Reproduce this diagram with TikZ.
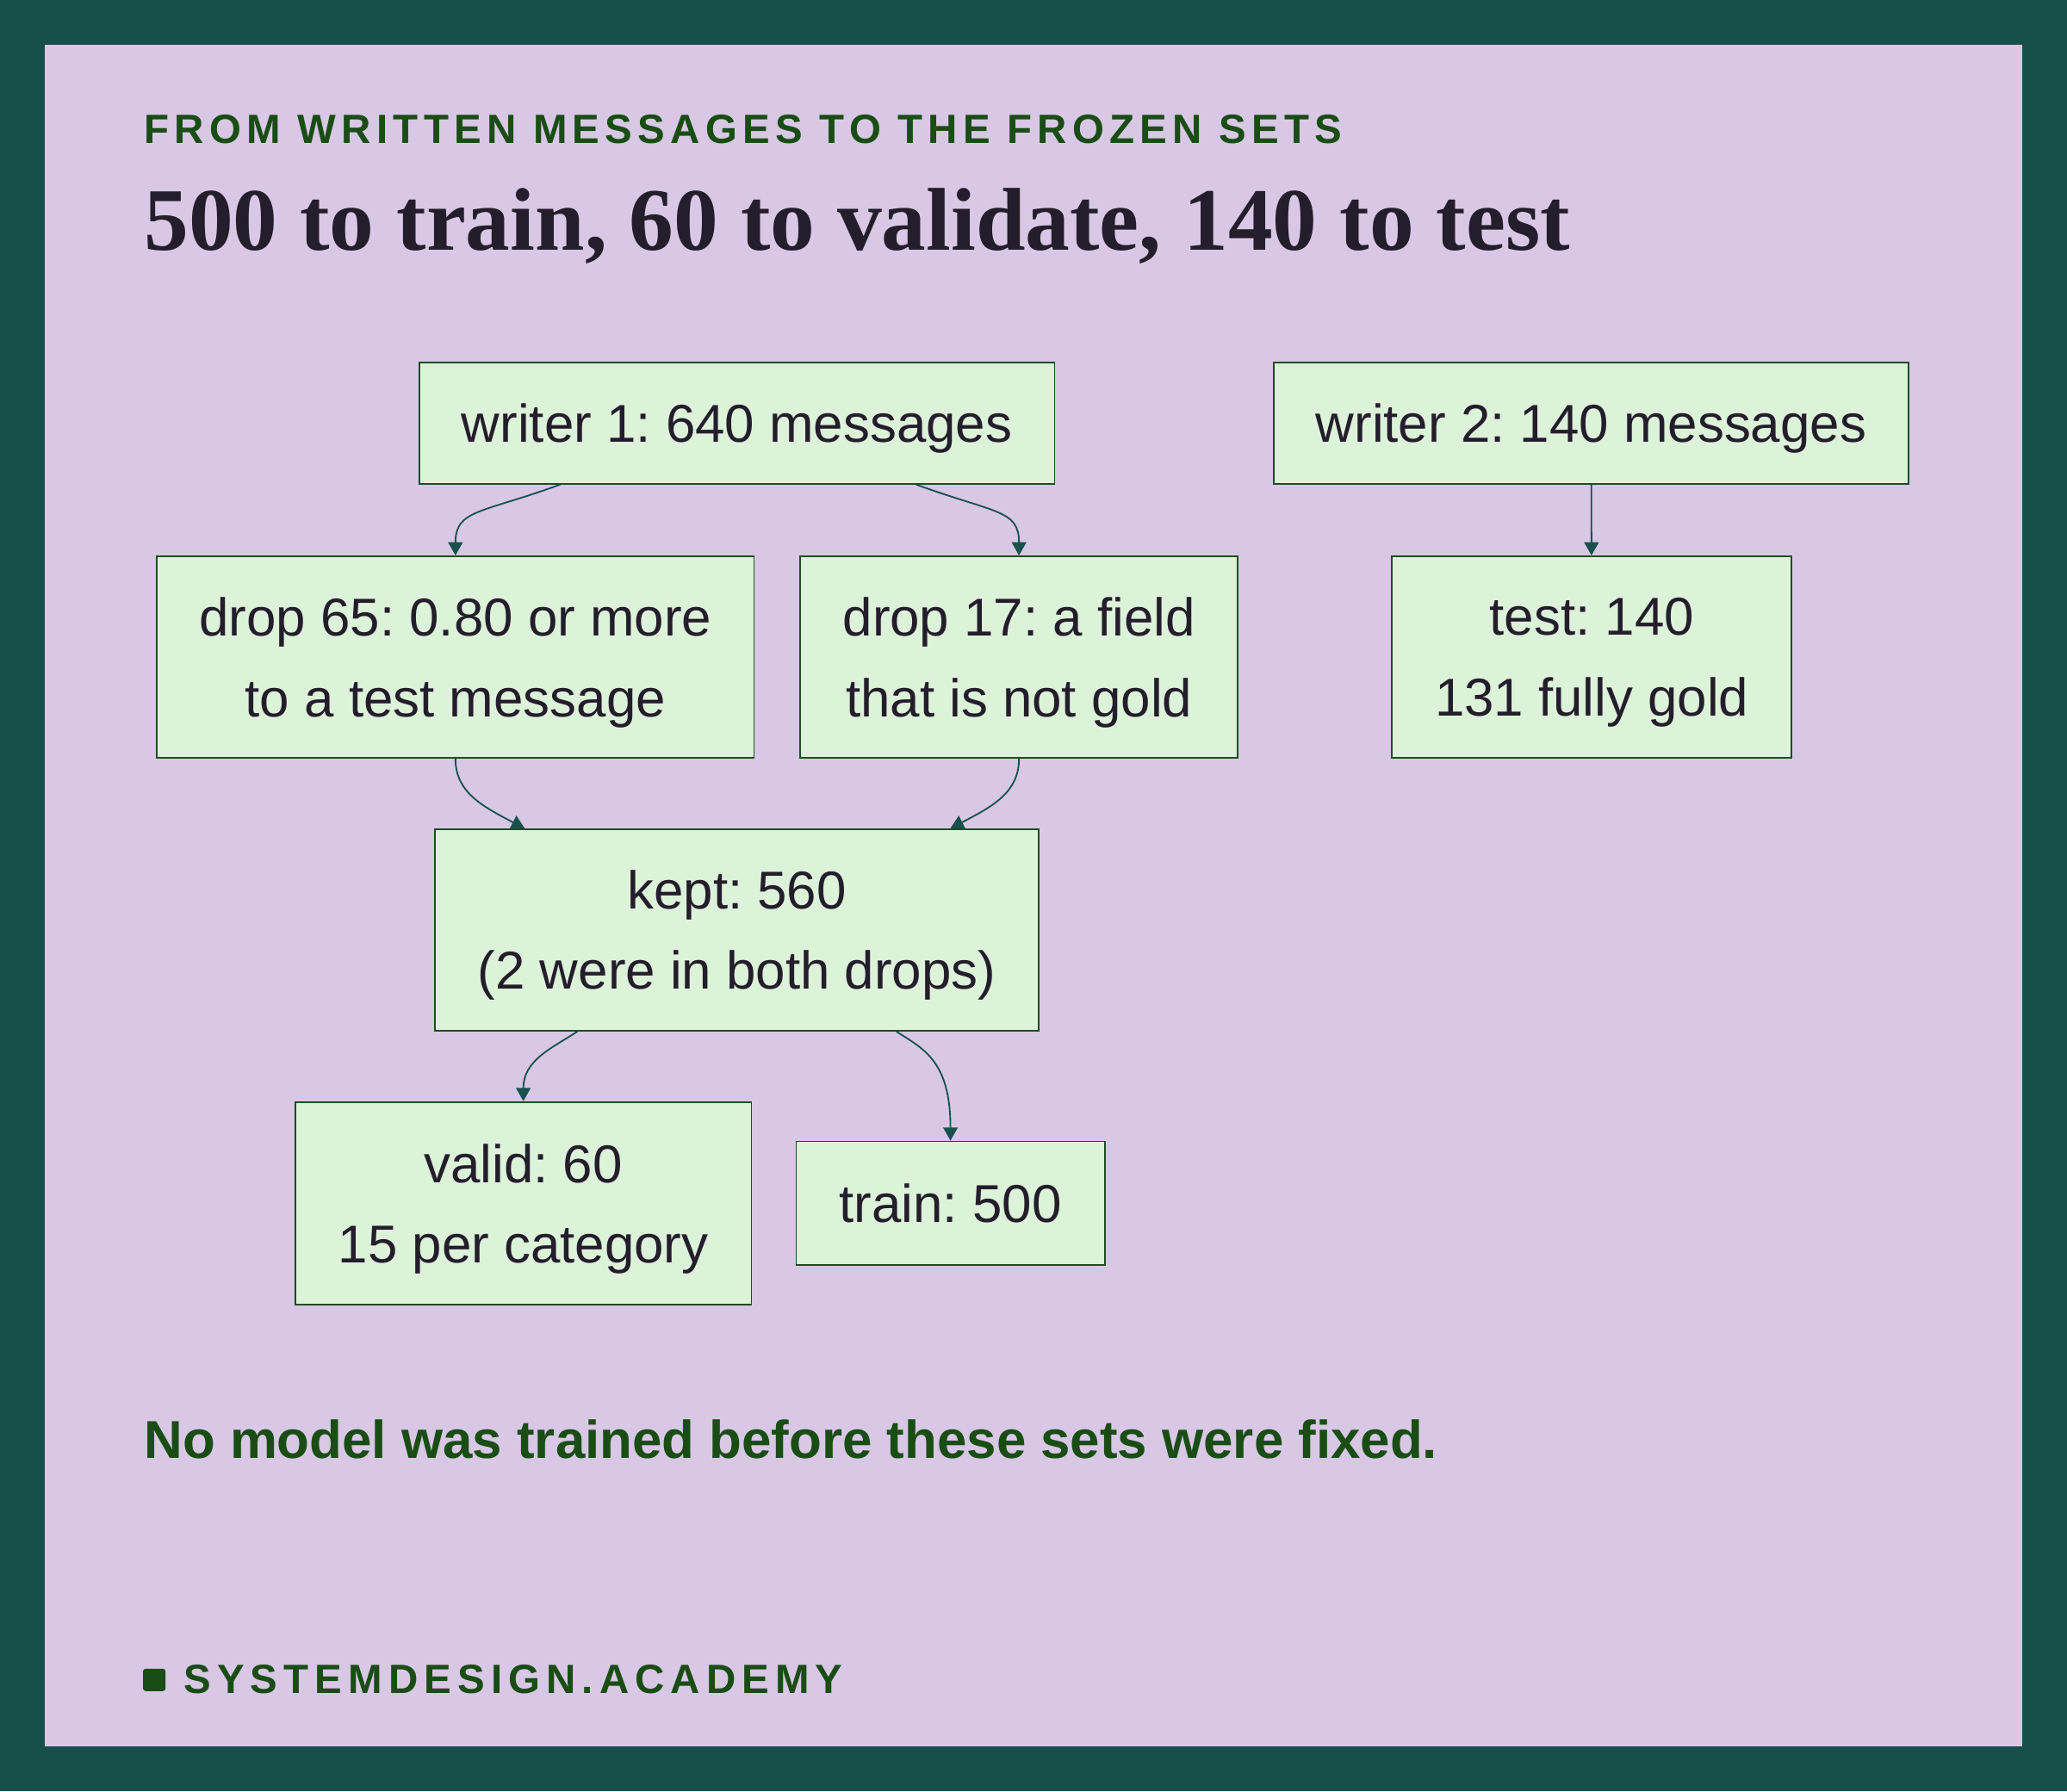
\documentclass[tikz,border=0pt]{standalone}
\usepackage{fontspec}
\setmainfont{Liberation Sans}
\newfontfamily\titlefont{Liberation Serif}
\newfontfamily\kickerfont[LetterSpace=13.3]{Liberation Sans}
\newfontfamily\brandfont[LetterSpace=15]{Liberation Sans}
\usetikzlibrary{arrows.meta,calc}
\frenchspacing

\definecolor{frame}{RGB}{23,79,75}
\definecolor{lavender}{RGB}{216,199,229}
\definecolor{boxfill}{RGB}{220,242,217}
\definecolor{boxline}{RGB}{30,77,34}
\definecolor{ink}{RGB}{36,29,43}
\definecolor{leaf}{RGB}{25,77,20}
\definecolor{wire}{RGB}{25,80,77}

\tikzset{
  box/.style={draw=boxline, fill=boxfill, line width=0.6pt, inner sep=0pt, align=center, text=ink, text depth=0pt, font=\fontsize{20.2}{30.5}\selectfont},
  flow/.style={draw=wire, line width=0.6pt, -{Triangle[length=5pt,width=5.5pt]}}
}

\begin{document}
\begin{tikzpicture}[x=0.5pt,y=0.5pt,yscale=-1,xscale=1]

\fill [frame] (0,0) rectangle (1568,1359);
\fill [lavender] (34,34) rectangle (1534,1325);

\draw (109,108.5) node [anchor=base west, inner sep=0pt, text=leaf, font=\kickerfont\bfseries\fontsize{15.5}{18}\selectfont] (kicker) {FROM WRITTEN MESSAGES TO THE FROZEN SETS};
\draw (109,190) node [anchor=base west, inner sep=0pt, text=ink, font=\titlefont\bfseries\fontsize{33.8}{40}\selectfont] (title) {500 to train, 60 to validate, 140 to test};

\draw (559,321) node [box, minimum width=241pt, minimum height=46pt] (w1) {writer 1: 640 messages};
\draw (1207,321) node [box, minimum width=241pt, minimum height=46pt] (w2) {writer 2: 140 messages};
\draw (345.5,498.5) node [box, minimum width=226.5pt, minimum height=76.5pt] (d65) {drop 65: 0.80 or more\\to a test message};
\draw (773,498.5) node [box, minimum width=166pt, minimum height=76.5pt] (d17) {drop 17: a field\\that is not gold};
\draw (1207.5,498.5) node [box, minimum width=151.5pt, minimum height=76.5pt] (test) {test: 140\\131 fully gold};
\draw (559,705.5) node [box, minimum width=229pt, minimum height=76.5pt] (kept) {kept: 560\\(2 were in both drops)};
\draw (397,913) node [box, minimum width=173pt, minimum height=77pt] (valid) {valid: 60\\15 per category};
\draw (721,913) node [box, minimum width=117pt, minimum height=47pt] (train) {train: 500};

\draw [flow] ($(w1.south)+(-134,0)$) .. controls +(-60,22) and +(0,-35) .. (d65.north);
\draw [flow] ($(w1.south)+(136,0)$) .. controls +(60,22) and +(0,-35) .. (d17.north);
\draw [flow] (w2) -- (test);
\draw [flow] (d65.south) .. controls +(0,25) and +(-33,-17) .. ($(kept.north)+(-161,0)$);
\draw [flow] (d17.south) .. controls +(0,25) and +(33,-17) .. ($(kept.north)+(162,0)$);
\draw [flow] ($(kept.south)+(-121,0)$) .. controls +(-20,13) and +(0,-31) .. (valid.north);
\draw [flow] ($(kept.south)+(121,0)$) .. controls +(20,13) and +(0,-61) .. (train.north);

\draw (109,1106.6) node [anchor=base west, inner sep=0pt, text=leaf, font=\bfseries\fontsize{20.2}{24}\selectfont] (note) {No model was trained before these sets were fixed.};
\draw (117,1274.5) node [fill=leaf, minimum size=8.5pt, inner sep=0pt, rounded corners=1pt] (mark) {};
\draw (139,1284.5) node [anchor=base west, inner sep=0pt, text=leaf, font=\brandfont\bfseries\fontsize{15.5}{18}\selectfont] (brand) {SYSTEMDESIGN.ACADEMY};

\end{tikzpicture}
\end{document}
